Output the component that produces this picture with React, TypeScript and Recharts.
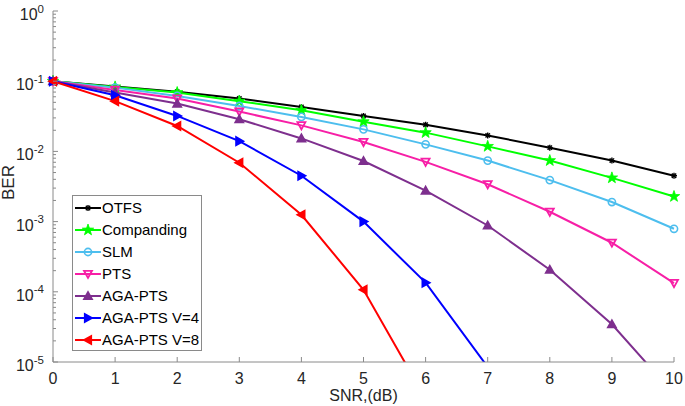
import { LineChart, Line, XAxis, YAxis, Legend } from 'recharts'

document.body.style.margin = '0'

const snr = [0, 1, 2, 3, 4, 5, 6, 7, 8, 9, 10]
const otfs = [0.1, 0.084, 0.071, 0.0566, 0.043, 0.032, 0.024, 0.0169, 0.0113, 0.0074, 0.0045]
const companding = [0.1, 0.083, 0.069, 0.052, 0.0385, 0.0265, 0.0185, 0.0118, 0.0074, 0.0042, 0.00228]
const slm = [0.1, 0.081, 0.0617, 0.0443, 0.031, 0.0206, 0.0126, 0.0074, 0.0039, 0.0019, 0.00079]
const pts = [0.1, 0.075, 0.0566, 0.0369, 0.0235, 0.0136, 0.0071, 0.0034, 0.00138, 0.0005, 0.000133]
const agaPts = [0.1, 0.069, 0.048, 0.0287, 0.0153, 0.0073, 0.00277, 0.00088, 0.000206, 0.0000345, 0.0000035]
const agaV4 = [0.1, 0.063, 0.032, 0.014, 0.0045, 0.001, 0.000135, 0.0000085, null, null, null]
const agaV8 = [0.1, 0.052, 0.023, 0.0069, 0.00125, 0.000107, 0.000003, null, null, null, null]

const xTicks = [0, 1, 2, 3, 4, 5, 6, 7, 8, 9, 10]
const decades = [-5, -4, -3, -2, -1, 0]

type Kind = 'asterisk' | 'star' | 'circle' | 'down' | 'up' | 'right' | 'left'

const series: { key: string; name: string; color: string; kind: Kind; fill: boolean; values: (number | null)[] }[] = [
  { key: 'otfs', name: 'OTFS', color: '#000000', kind: 'asterisk', fill: true, values: otfs },
  { key: 'comp', name: 'Companding', color: '#00ff00', kind: 'star', fill: true, values: companding },
  { key: 'slm', name: 'SLM', color: '#4dbeee', kind: 'circle', fill: false, values: slm },
  { key: 'pts', name: 'PTS', color: '#f71fa6', kind: 'down', fill: false, values: pts },
  { key: 'aga', name: 'AGA-PTS', color: '#7e2f8e', kind: 'up', fill: true, values: agaPts },
  { key: 'v4', name: 'AGA-PTS V=4', color: '#0000ff', kind: 'right', fill: true, values: agaV4 },
  { key: 'v8', name: 'AGA-PTS V=8', color: '#ff0000', kind: 'left', fill: true, values: agaV8 },
]

const data = snr.map((x, i) => {
  const row: any = { snr: x }
  series.forEach((s) => { row[s.key] = s.values[i] })
  return row
})

// minor ticks 2..9 x 10^k plus the decades
const yTicks: number[] = []
decades.forEach((d) => {
  yTicks.push(Math.pow(10, d))
  if (d < 0) for (let m = 2; m <= 9; m++) yTicks.push(m * Math.pow(10, d))
})
yTicks.sort((a, b) => a - b)

const AXIS = '#8a8a8a'
const TXT = '#262626'
const FONT = '"Liberation Sans", Arial, Helvetica, sans-serif'

const isDecade = (v: number) => Math.abs(Math.log10(v) - Math.round(Math.log10(v))) < 1e-6

function Marker({ kind, cx, cy, color, fill }: { kind: Kind; cx: number; cy: number; color: string; fill: boolean }) {
  const f = fill ? color : 'none'
  const r = 4
  if (kind === 'asterisk') {
    return (
      <g stroke={color} strokeWidth={1.4}>
        <line x1={cx - 3} x2={cx + 3} y1={cy} y2={cy} />
        <line x1={cx} x2={cx} y1={cy - 3} y2={cy + 3} />
        <line x1={cx - 2.2} x2={cx + 2.2} y1={cy - 2.2} y2={cy + 2.2} />
        <line x1={cx - 2.2} x2={cx + 2.2} y1={cy + 2.2} y2={cy - 2.2} />
      </g>
    )
  }
  if (kind === 'circle') {
    return <circle cx={cx} cy={cy} r={3.6} fill="none" stroke={color} strokeWidth={1.6} />
  }
  if (kind === 'star') {
    const pts: string[] = []
    for (let i = 0; i < 10; i++) {
      const rr = i % 2 === 0 ? 6 : 2.4
      const a = -Math.PI / 2 + (i * Math.PI) / 5
      pts.push(`${cx + rr * Math.cos(a)},${cy + rr * Math.sin(a)}`)
    }
    return <polygon points={pts.join(' ')} fill={color} stroke={color} strokeWidth={0.8} />
  }
  let p = ''
  if (kind === 'down') p = `${cx - r},${cy - r * 0.8} ${cx + r},${cy - r * 0.8} ${cx},${cy + r}`
  if (kind === 'up') p = `${cx - r},${cy + r * 0.8} ${cx + r},${cy + r * 0.8} ${cx},${cy - r}`
  if (kind === 'right') p = `${cx - r * 0.8},${cy - r} ${cx - r * 0.8},${cy + r} ${cx + r},${cy}`
  if (kind === 'left') p = `${cx + r * 0.8},${cy - r} ${cx + r * 0.8},${cy + r} ${cx - r},${cy}`
  return <polygon points={p} fill={f} stroke={color} strokeWidth={1.8} strokeLinejoin="miter" />
}

function LeftTick({ x, y, payload }: any) {
  const v = payload.value
  const major = isDecade(v)
  return (
    <g>
      <line x1={x} x2={x + (major ? 5 : 3)} y1={y} y2={y} stroke={AXIS} />
      {major && (
        <text x={x - 9} y={y + 9} textAnchor="end" fill={TXT} fontSize={16} fontFamily={FONT}>
          10<tspan dy={-7.5} fontSize={11.5}>{Math.round(Math.log10(v))}</tspan>
        </text>
      )}
    </g>
  )
}

function RightTick({ x, y, payload }: any) {
  const major = isDecade(payload.value)
  return <line x1={x} x2={x - (major ? 5 : 3)} y1={y} y2={y} stroke={AXIS} />
}

function BottomTick({ x, y, payload }: any) {
  return (
    <g>
      <line x1={x} x2={x} y1={y} y2={y - 5} stroke={AXIS} />
      <text x={x} y={y + 22} textAnchor="middle" fill={TXT} fontSize={16} fontFamily={FONT}>
        {payload.value}
      </text>
    </g>
  )
}

function TopTick({ x, y }: any) {
  return <line x1={x} x2={x} y1={y} y2={y + 5} stroke={AXIS} />
}

function LegendBox() {
  return (
    <div
      style={{
        boxSizing: 'border-box',
        width: 130,
        height: 156,
        border: `1px solid ${AXIS}`,
        background: '#fff',
        paddingTop: 1,
        fontFamily: FONT,
        fontSize: 15,
        color: '#000',
      }}
    >
      {series.map((s) => (
        <div key={s.key} style={{ display: 'flex', alignItems: 'center', height: 22 }}>
          <svg width={29} height={22} style={{ flex: 'none' }}>
            <line x1={2} x2={28} y1={11} y2={11} stroke={s.color} strokeWidth={2} />
            <Marker kind={s.kind} cx={15} cy={11} color={s.color} fill={s.fill} />
          </svg>
          <span style={{ whiteSpace: 'nowrap', lineHeight: '22px' }}>{s.name}</span>
        </div>
      ))}
    </div>
  )
}

export default function App() {
  return (
    <LineChart
      width={685}
      height={406}
      data={data}
      margin={{ top: 11, right: 11, left: 0, bottom: 0 }}
      style={{ background: '#fff' }}
    >
      <XAxis
        xAxisId="b"
        dataKey="snr"
        type="number"
        domain={[0, 10]}
        ticks={xTicks}
        interval={0}
        height={44}
        tickSize={0}
        tickMargin={0}
        tickLine={false}
        stroke={AXIS}
        tick={<BottomTick />}
        label={{
          content: ({ viewBox }: any) => (
            <text
              x={viewBox.x + viewBox.width / 2}
              y={viewBox.y + 39}
              textAnchor="middle"
              fill={TXT}
              fontSize={16}
              fontFamily={FONT}
            >
              SNR,(dB)
            </text>
          ),
        }}
      />
      <XAxis
        xAxisId="t"
        orientation="top"
        type="number"
        domain={[0, 10]}
        ticks={xTicks}
        interval={0}
        height={0}
        tickSize={0}
        tickMargin={0}
        tickLine={false}
        stroke={AXIS}
        tick={<TopTick />}
      />
      <YAxis
        yAxisId="l"
        scale="log"
        type="number"
        domain={[1e-5, 1]}
        allowDataOverflow
        ticks={yTicks}
        interval={0}
        width={53}
        tickSize={0}
        tickMargin={0}
        tickLine={false}
        stroke={AXIS}
        tick={<LeftTick />}
        label={{
          content: ({ viewBox }: any) => {
            const cx = 14
            const cy = viewBox.y + viewBox.height / 2 - 4
            return (
              <text
                x={cx}
                y={cy}
                textAnchor="middle"
                transform={`rotate(-90, ${cx}, ${cy})`}
                fill={TXT}
                fontSize={17}
                fontFamily={FONT}
              >
                BER
              </text>
            )
          },
        }}
      />
      <YAxis
        yAxisId="r"
        orientation="right"
        scale="log"
        type="number"
        domain={[1e-5, 1]}
        allowDataOverflow
        ticks={yTicks}
        interval={0}
        width={0}
        tickSize={0}
        tickMargin={0}
        tickLine={false}
        stroke={AXIS}
        tick={<RightTick />}
      />
      <Legend
        layout="vertical"
        align="center"
        verticalAlign="middle"
        content={() => <LegendBox />}
        wrapperStyle={{ position: 'absolute', left: 72, top: 195, width: 130, height: 156 }}
      />
      {series.map((s) => (
        <Line
          key={s.key}
          xAxisId="b"
          yAxisId="l"
          dataKey={s.key}
          name={s.name}
          stroke={s.color}
          strokeWidth={2}
          isAnimationActive={false}
          connectNulls={false}
          dot={(p: any) => {
            if (p.cx == null || p.cy == null || p.value == null) return <g key={`${s.key}-${p.index}`} />
            return (
              <g key={`${s.key}-${p.index}`}>
                <Marker kind={s.kind} cx={p.cx} cy={p.cy} color={s.color} fill={s.fill} />
              </g>
            )
          }}
          activeDot={false}
        />
      ))}
    </LineChart>
  )
}
